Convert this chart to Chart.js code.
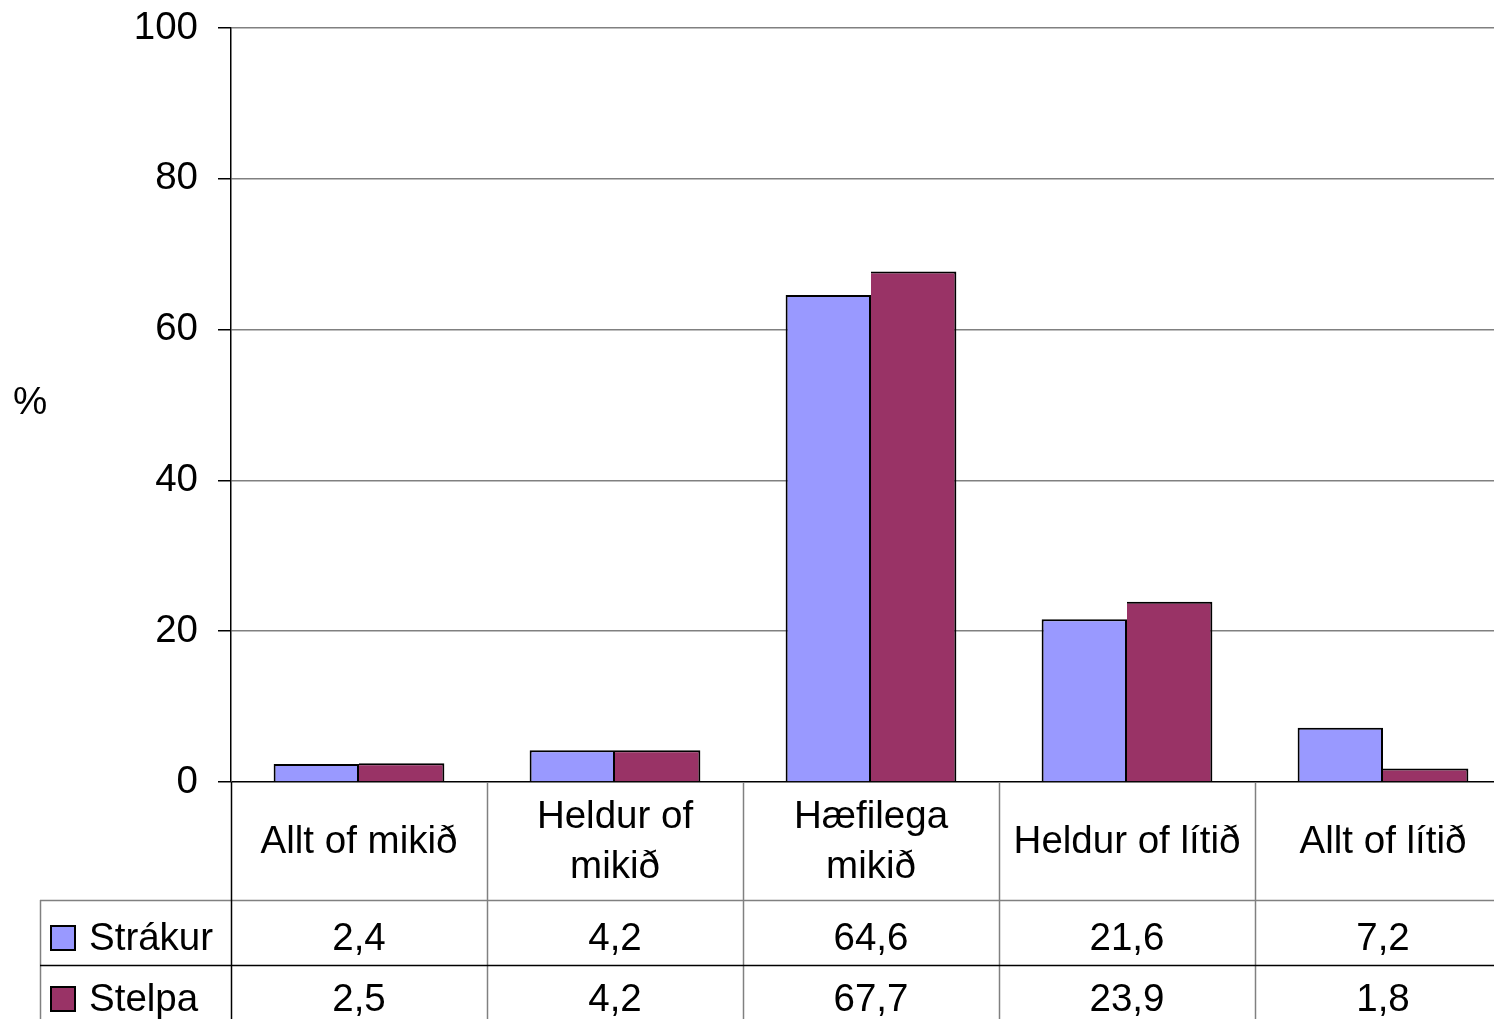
<!doctype html>
<html lang="is">
  <head>
    <meta charset="utf-8">
    <title>Strákur / Stelpa</title>
    <style>
      * { margin: 0; padding: 0; }
      body { width: 1494px; height: 1019px; overflow: hidden; background: #fff; }
      .chartBox { width: 1520px; height: 1019px; }
    </style>
  </head>
  <body>
    <div class="chartBox">
      <canvas id="myChart"></canvas>
    </div>
    <script src="https://cdn.jsdelivr.net/npm/chart.js"></script>
    <script>
    // data
    const categories = [['Allt of mikið'], ['Heldur of', 'mikið'], ['Hæfilega', 'mikið'], ['Heldur of lítið'], ['Allt of lítið']];
    const seriesNames = ['Strákur', 'Stelpa'];
    const strakur = [2.4, 4.2, 64.6, 21.6, 7.2];
    const stelpa = [2.5, 4.2, 67.7, 23.9, 1.8];
    const colors = ['#9999FF', '#993366'];

    const FONT = '38.5px "Liberation Sans", Arial, sans-serif';
    const TABLE_TOP = 782, ROW1 = 900, ROW2 = 965, LEFT_BOX = 40;

    // draws the data table under the plot and the "%" title
    const dataTable = {
      id: 'dataTable',
      afterDraw(chart) {
        const ctx = chart.ctx;
        const x = chart.scales.x;
        const area = chart.chartArea;
        const bottom = chart.height;
        const n = categories.length;
        const cw = x.width / n;
        ctx.save();
        ctx.lineWidth = 1.5;

        // column separators
        ctx.strokeStyle = '#808080';
        for (let i = 1; i < n; i++) {
          const bx = Math.round(x.getPixelForValue(i) - cw / 2) + 0.5;
          ctx.beginPath(); ctx.moveTo(bx, TABLE_TOP); ctx.lineTo(bx, bottom); ctx.stroke();
        }
        // row line under labels
        ctx.beginPath(); ctx.moveTo(LEFT_BOX, ROW1 + 0.5); ctx.lineTo(area.right, ROW1 + 0.5); ctx.stroke();
        ctx.beginPath(); ctx.moveTo(LEFT_BOX + 0.5, ROW1); ctx.lineTo(LEFT_BOX + 0.5, bottom); ctx.stroke();
        // row line between series
        ctx.strokeStyle = '#000';
        ctx.beginPath(); ctx.moveTo(LEFT_BOX, ROW2 + 0.5); ctx.lineTo(area.right, ROW2 + 0.5); ctx.stroke();
        // left axis continues through the table
        ctx.beginPath(); ctx.moveTo(area.left + 0.5, TABLE_TOP); ctx.lineTo(area.left + 0.5, bottom); ctx.stroke();

        ctx.fillStyle = '#000';
        ctx.font = FONT;
        ctx.textAlign = 'center';
        ctx.textBaseline = 'middle';
        categories.forEach((lines, i) => {
          const cx = x.getPixelForValue(i);
          const mid = 842;
          lines.forEach((t, j) => {
            ctx.fillText(t, cx, mid + (j - (lines.length - 1) / 2) * 50);
          });
        });

        const rows = [strakur, stelpa];
        const rowY = [939, 1000];
        rows.forEach((vals, r) => {
          vals.forEach((v, i) => {
            ctx.fillText(v.toFixed(1).replace('.', ','), x.getPixelForValue(i), rowY[r]);
          });
          // legend key
          ctx.fillStyle = colors[r];
          ctx.fillRect(51, rowY[r] - 13, 24, 24);
          ctx.strokeStyle = '#000';
          ctx.lineWidth = 2;
          ctx.strokeRect(51, rowY[r] - 13, 24, 24);
          ctx.fillStyle = '#000';
          ctx.textAlign = 'left';
          ctx.fillText(seriesNames[r], 89, rowY[r]);
          ctx.textAlign = 'center';
        });

        ctx.fillText('%', 30, 403);
        ctx.restore();
      }
    };

    const data = {
      labels: categories,
      datasets: [
        { label: seriesNames[0], data: strakur, backgroundColor: colors[0], borderColor: '#000', borderWidth: 2 },
        { label: seriesNames[1], data: stelpa, backgroundColor: colors[1], borderColor: '#000',
          borderWidth: { top: 2, right: 2, bottom: 0, left: 0 } }
      ]
    };

    const config = {
      type: 'bar',
      data,
      plugins: [dataTable],
      options: {
        responsive: true,
        maintainAspectRatio: false,
        animation: false,
        layout: { padding: { top: 28, right: 9, bottom: 237, left: 0 } },
        datasets: { bar: { categoryPercentage: 0.667, barPercentage: 1 } },
        plugins: { legend: { display: false }, tooltip: { enabled: false } },
        scales: {
          x: { display: false },
          y: {
            min: 0,
            max: 100,
            ticks: { stepSize: 20, color: '#000', padding: 20, font: { family: '"Liberation Sans", Arial, sans-serif', size: 38.5 } },
            grid: {
              color: (c) => c.tick && c.tick.value === 0 ? '#000' : '#808080',
              tickColor: '#000',
              tickLength: 13,
              lineWidth: 1.5
            },
            border: { color: '#000', width: 1.5 },
            afterFit(scale) {
              scale.width = 231;
              scale.paddingTop = 0;
              scale.paddingBottom = 0;
            }
          }
        }
      }
    };

    new Chart(document.getElementById('myChart'), config);
    </script>
  </body>
</html>
